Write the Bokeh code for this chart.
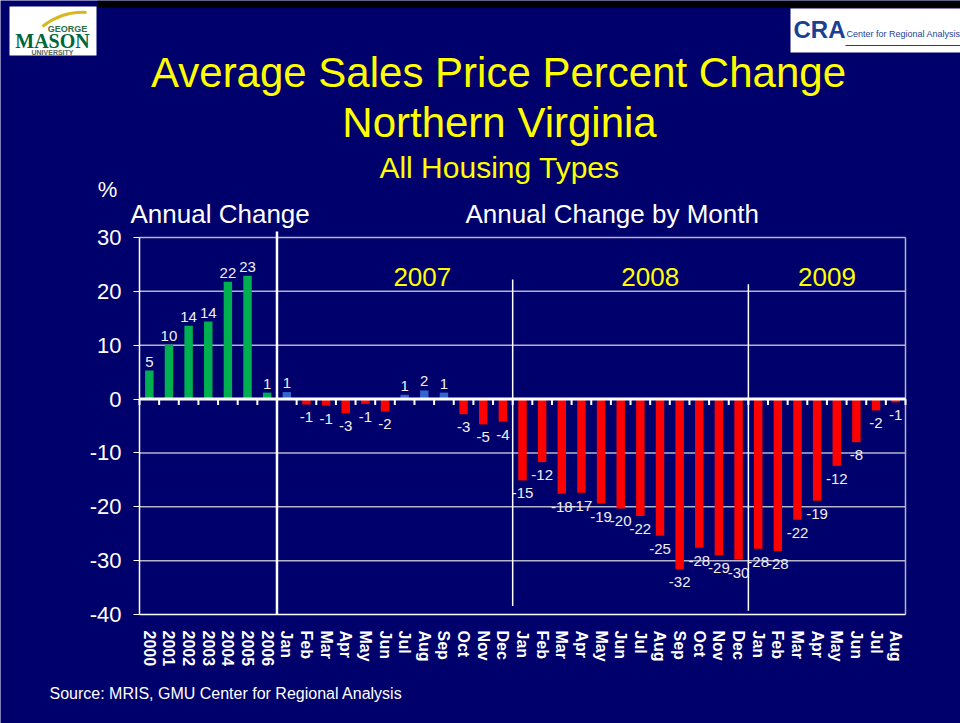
from bokeh.plotting import figure
from bokeh.models import Range1d, FixedTicker, LinearAxis
from bokeh.core.properties import value
from bokeh.embed import file_html
from bokeh.resources import INLINE

# ---------------- data ----------------
annual_labels = ["2000", "2001", "2002", "2003", "2004", "2005", "2006"]
annual_values = [5.3, 10.1, 13.6, 14.4, 21.8, 22.9, 1.2]

month_names = ["Jan", "Feb", "Mar", "Apr", "May", "Jun",
               "Jul", "Aug", "Sep", "Oct", "Nov", "Dec"]
months_2007 = month_names
values_2007 = [1.3, -1.0, -1.2, -2.6, -0.9, -2.3, 0.8, 1.6, 1.2, -2.8, -4.7, -4.2]
months_2008 = month_names
values_2008 = [-15.1, -11.7, -17.6, -17.4, -19.4, -20.3, -21.7, -25.4, -31.6, -27.6, -29.0, -29.8]
months_2009 = month_names[:8]
values_2009 = [-27.8, -28.2, -22.4, -18.9, -12.4, -8.0, -2.1, -0.6]

year_groups = ["2007", "2008", "2009"]
y_ticks = [-40, -30, -20, -10, 0, 10, 20, 30]

title_lines = ["Average Sales Price Percent Change", "Northern Virginia"]
subtitle = "All Housing Types"
source_text = "Source: MRIS, GMU Center for Regional Analysis"

# ---------------- styling / layout ----------------
NAVY = "#00006c"
GREEN = "#00b050"
BLUE = "#3366cc"
RED = "#ff0000"
YELLOW = "#ffff00"
GRID = "#b4b4c8"
FONT = "Liberation Sans"
W, H = 960, 723
# chart area in canvas pixels
CL, CR, CT, CB = 139, 905, 237, 614

cat_labels = annual_labels + months_2007 + months_2008 + months_2009
values = annual_values + values_2007 + values_2008 + values_2009
n = len(cat_labels)
centers = [i + 0.5 for i in range(n)]
colors = ([GREEN] * len(annual_values) +
          [BLUE if v > 0 else RED for v in values_2007 + values_2008 + values_2009])
y_min, y_max = y_ticks[0], y_ticks[-1]

kx = (CR - CL) / n
ky = (CB - CT) / (y_max - y_min)
x_range = Range1d(-CL / kx, n + (W - CR) / kx)
y_range = Range1d(y_min - (H - CB) / ky, y_max + CT / ky)

p = figure(width=W, height=H, output_backend="svg", toolbar_location=None,
           x_range=x_range, y_range=y_range,
           x_axis_type=None, y_axis_type=None,
           min_border=0, min_border_left=0, min_border_right=0,
           min_border_top=0, min_border_bottom=0)
p.background_fill_color = NAVY
p.border_fill_color = NAVY
p.outline_line_color = None
p.extra_x_ranges = {"px": Range1d(0, W)}
p.extra_y_ranges = {"py": Range1d(H, 0)}

# grid lines and right border of the chart area
grid_t = [t for t in y_ticks if t != 0 and t != y_min]
p.segment(x0=[0] * len(grid_t), x1=[n] * len(grid_t), y0=grid_t, y1=grid_t,
          line_color=GRID, line_width=1.5)
p.segment(x0=[n], x1=[n], y0=[y_min], y1=[y_max], line_color=GRID, line_width=1.5)

# axes
yaxis = LinearAxis(fixed_location=0, bounds=(y_min, y_max),
                   ticker=FixedTicker(ticks=y_ticks))
yaxis.major_label_overrides = {t: str(t) for t in y_ticks}
yaxis.axis_line_color = "white"
yaxis.axis_line_width = 1.5
yaxis.major_tick_line_color = "white"
yaxis.major_tick_out = 6
yaxis.major_tick_in = 0
yaxis.minor_tick_line_color = None
yaxis.major_label_text_color = "white"
yaxis.major_label_text_font = FONT
yaxis.major_label_text_font_size = "22px"
yaxis.major_label_standoff = 12
p.add_layout(yaxis, "left")

xaxis = LinearAxis(fixed_location=y_min, bounds=(0, n),
                   ticker=FixedTicker(ticks=centers))
xaxis.major_label_overrides = {c: lab for c, lab in zip(centers, cat_labels)}
xaxis.major_label_orientation = "vertical"
xaxis.axis_line_color = "white"
xaxis.axis_line_width = 1.5
xaxis.major_tick_line_color = None
xaxis.minor_tick_line_color = None
xaxis.major_label_text_color = "white"
xaxis.major_label_text_font = FONT
xaxis.major_label_text_font_style = "bold"
xaxis.major_label_text_font_size = "16px"
xaxis.major_label_standoff = 10
p.add_layout(xaxis, "below")

# bars
p.vbar(x=centers, top=values, bottom=0, width=0.43, fill_color=colors, line_color=None)

# zero line with tick marks at category boundaries
p.segment(x0=[0], x1=[n], y0=[0], y1=[0], line_color="white", line_width=3)
bounds = list(range(n + 1))
p.segment(x0=bounds, x1=bounds, y0=[0] * len(bounds), y1=[-1.1] * len(bounds),
          line_color="white", line_width=2)

# separators between groups
b1 = len(annual_values)
b2 = b1 + len(months_2007)
b3 = b2 + len(months_2008)
p.segment(x0=[b1], x1=[b1], y0=[y_min], y1=[31.1], line_color="white", line_width=2.5)
p.segment(x0=[b2, b3], x1=[b2, b3], y0=[-38.4, -39.3], y1=[22.2, 21.3],
          line_color="white", line_width=1.5)

# data labels
pos_x = [c for c, v in zip(centers, values) if v > 0]
pos_v = [v for v in values if v > 0]
neg_x = [c for c, v in zip(centers, values) if v <= 0]
neg_v = [v for v in values if v <= 0]
p.text(x=pos_x, y=pos_v, text=[f"{v:.0f}" for v in pos_v], text_align="center",
       text_baseline="bottom", y_offset=-4, text_color="#f0f0f0",
       text_font=value(FONT), text_font_size="15px")
p.text(x=neg_x, y=neg_v, text=[f"{v:.0f}" for v in neg_v], text_align="center",
       text_baseline="top", y_offset=8, text_color="#f0f0f0",
       text_font=value(FONT), text_font_size="15px")

# year group labels
yr_x = [(b1 + b2) / 2 + 1.4, (b2 + b3) / 2 + 1.0, (b3 + n) / 2]
p.text(x=yr_x, y=[22.6] * 3, text=year_groups, text_align="center",
       text_baseline="middle", text_color=YELLOW, text_font=value(FONT),
       text_font_size="26px")


# ---------------- page texts and logos (canvas pixel coordinates) ----------------
def txt(x, y, text, size, color="white", align="center", style="normal", font=FONT):
    p.text(x=[x], y=[y], text=[text], text_align=align, text_baseline="middle",
           text_color=color, text_font=value(font), text_font_size=size,
           text_font_style=style, x_range_name="px", y_range_name="py")


def box(l, r, t, b, color):
    p.quad(left=[l], right=[r], top=[t], bottom=[b], fill_color=color, line_color=None,
           x_range_name="px", y_range_name="py")


box(97, W, 0, 7, "black")
# GMU logo
box(9, 96, 6, 55, "white")
p.bezier(x0=[42], y0=[26], x1=[86], y1=[12], cx0=[55], cy0=[16], cx1=[70], cy1=[11],
         line_color="#d8b820", line_width=3, x_range_name="px", y_range_name="py")
txt(67, 28, "GEORGE", "9px", "#2e6b3c", style="bold")
txt(52, 40, "MASON", "20px", "#00663a", style="bold", font="Liberation Serif")
txt(52, 52, "UNIVERSITY", "7px", "#5a6a5a", style="bold")
# CRA logo
box(790, W, 8, 52, "white")
p.segment(x0=[845], x1=[W], y0=[45], y1=[45], line_color="#1c3f94", line_width=1.2,
          x_range_name="px", y_range_name="py")
txt(846, 33, "Center for Regional Analysis", "9px", "#1c3f94", align="left")
txt(793, 29, "CRA", "24px", "#1c3f94", align="left", style="bold")
# titles
txt(498, 72, title_lines[0], "42px", YELLOW)
txt(499, 122, title_lines[1], "42px", YELLOW)
txt(499, 167, subtitle, "30px", YELLOW)
txt(107, 189, "%", "22px")
txt(130, 213, "Annual Change", "26px", align="left")
txt(465, 213, "Annual Change by Month", "26px", align="left")
txt(49, 693, source_text, "16px", align="left")

open("out.html", "w").write(file_html(p, INLINE))
